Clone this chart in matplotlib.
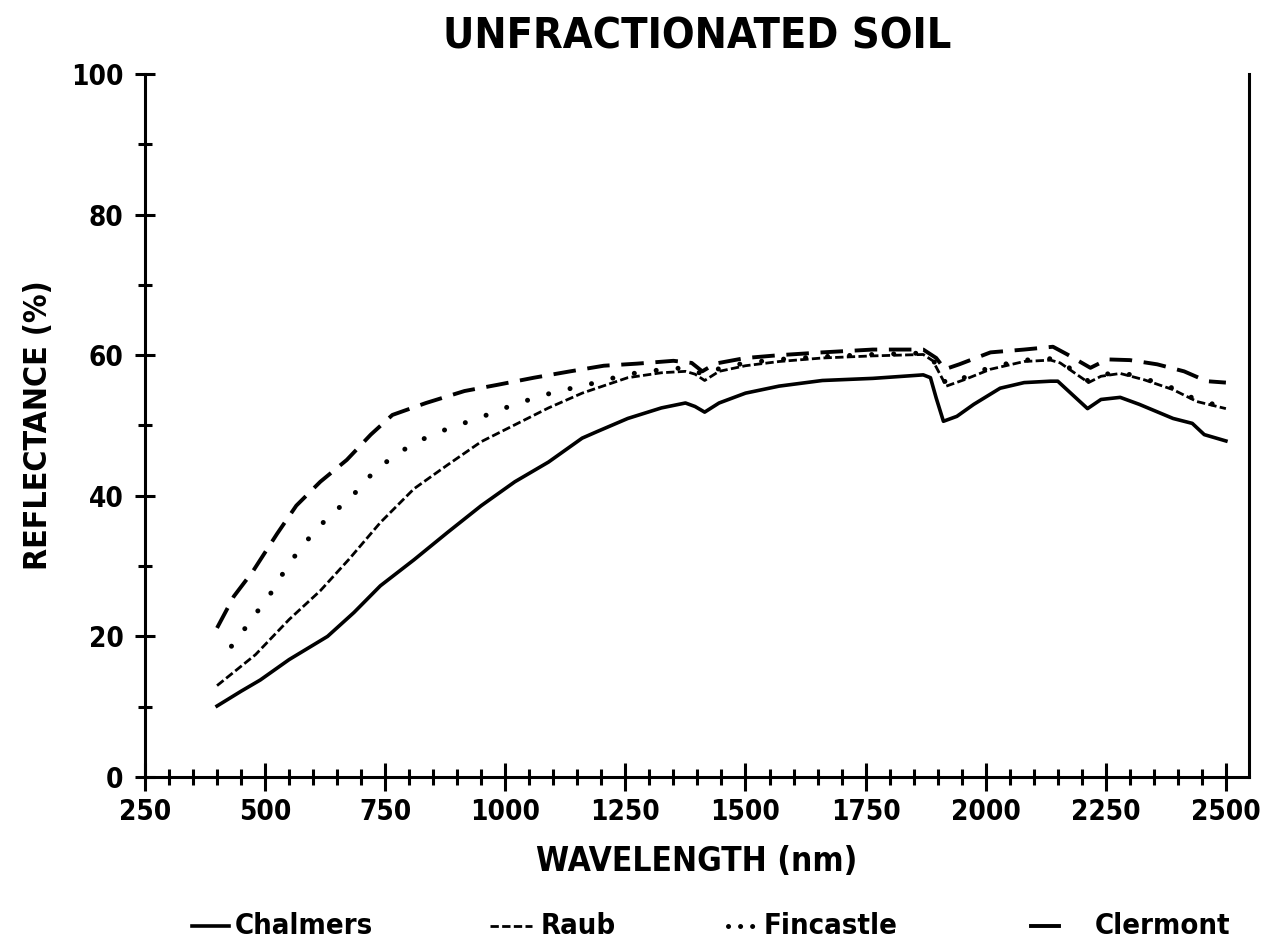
"""
Reflectance spectra of unfractionated soils (Chalmers, Raub, Fincastle, Clermont).
"""
import matplotlib
matplotlib.use("Agg")
import matplotlib.pyplot as plt
from matplotlib.lines import Line2D
from matplotlib.ticker import MultipleLocator

plt.rcParams["font.family"] = ["DejaVu Sans"]
plt.rcParams["font.stretch"] = "condensed"
plt.rcParams["font.weight"] = "bold"

# --- data -----------------------------------------------------------------
chalmers_wl = [400, 450, 490, 550, 630, 685, 740, 810, 880, 950,
               1020, 1090, 1160, 1190, 1255, 1325, 1375, 1395, 1415, 1445,
               1500, 1570, 1660, 1765, 1870, 1885, 1897, 1912, 1940, 1975,
               2030, 2080, 2135, 2150, 2212, 2240, 2280, 2320, 2390, 2430,
               2455, 2500]
chalmers = [10.1, 12.2, 13.8, 16.7, 20.0, 23.4, 27.2, 30.9, 34.8, 38.6,
            42.0, 44.8, 48.2, 49.1, 51.0, 52.5, 53.2, 52.7, 51.9, 53.2,
            54.6, 55.6, 56.4, 56.7, 57.2, 56.8, 53.9, 50.6, 51.3, 53.0,
            55.3, 56.1, 56.3, 56.3, 52.4, 53.7, 54.0, 53.0, 51.0, 50.3,
            48.7, 47.8]

raub_wl = [400, 480, 550, 615, 675, 740, 810, 880, 950, 1020,
           1090, 1160, 1190, 1255, 1325, 1375, 1395, 1415, 1445, 1500,
           1570, 1660, 1765, 1870, 1890, 1918, 1955, 2010, 2080, 2135,
           2155, 2214, 2240, 2280, 2330, 2390, 2440, 2500]
raub = [13.0, 17.4, 22.4, 26.5, 31.0, 36.2, 41.0, 44.4, 47.7, 50.1,
        52.5, 54.6, 55.3, 56.8, 57.5, 57.7, 57.3, 56.4, 57.7, 58.5,
        59.1, 59.6, 59.9, 60.1, 59.2, 55.6, 56.5, 58.0, 59.1, 59.3,
        58.9, 56.1, 57.0, 57.4, 56.5, 55.1, 53.4, 52.4]

fincastle_wl = [430, 460, 490, 520, 545, 575, 605, 640, 680, 710,
                750, 790, 830, 875, 925, 970, 1015, 1065, 1110, 1160,
                1205, 1255, 1300, 1350, 1395, 1415, 1445, 1500, 1570, 1660,
                1765, 1870, 1890, 1918, 1955, 2010, 2080, 2135, 2155, 2214,
                2240, 2280, 2330, 2390, 2440, 2500]
fincastle = [18.6, 21.3, 24.1, 26.9, 29.9, 32.6, 35.1, 37.5, 39.8, 42.3,
             44.7, 46.6, 48.1, 49.4, 50.6, 51.7, 52.9, 54.0, 54.9, 55.6,
             56.4, 57.3, 57.7, 58.2, 57.9, 57.0, 58.1, 58.9, 59.4, 59.8,
             60.1, 60.3, 59.4, 55.9, 56.8, 58.3, 59.3, 59.5, 59.1, 56.3,
             57.2, 57.6, 56.7, 55.3, 53.6, 52.6]

clermont_wl = [400, 435, 475, 525, 565, 615, 670, 720, 765, 835,
               915, 985, 1060, 1135, 1205, 1275, 1350, 1388, 1410, 1437,
               1500, 1570, 1660, 1765, 1870, 1897, 1915, 1945, 2010, 2080,
               2140, 2170, 2218, 2253, 2300, 2357, 2413, 2460, 2500]
clermont = [21.2, 25.7, 29.3, 34.6, 38.6, 42.0, 45.1, 48.7, 51.5, 53.2,
            54.9, 55.8, 56.8, 57.7, 58.5, 58.8, 59.2, 58.9, 57.7, 58.8,
            59.6, 60.0, 60.4, 60.8, 60.8, 59.6, 58.0, 58.7, 60.4, 60.8,
            61.2, 60.1, 58.2, 59.4, 59.3, 58.7, 57.7, 56.3, 56.1]

x_ticks = [250, 500, 750, 1000, 1250, 1500, 1750, 2000, 2250, 2500]
y_ticks = [0, 20, 40, 60, 80, 100]

# line styles: (label, x, y, style kwargs)
series = [
    ("Chalmers", chalmers_wl, chalmers,
     dict(lw=2.6, ls="-")),
    ("Raub", raub_wl, raub,
     dict(lw=2.0, ls=(0, (3.0, 1.2)))),
    ("Fincastle", fincastle_wl, fincastle,
     dict(lw=3.6, ls=(0, (0.01, 4.4)), dash_capstyle="round")),
    ("Clermont", clermont_wl, clermont,
     dict(lw=2.8, ls=(0, (5.8, 3.0)))),
]
# the legend samples are short, so some patterns are drawn tighter there
legend_ls = {"Fincastle": (0, (0.01, 2.4)), "Clermont": "-"}

fig = plt.figure(figsize=(12.64, 9.47), dpi=100)
ax = fig.add_axes([0.1147, 0.1795, 0.8734, 0.7424])

for label, x, y, kw in series:
    ax.plot(x, y, color="black", **kw)

ax.set_xlim(250, 2548)
ax.set_ylim(0, 100)
ax.set_xticks(x_ticks)
ax.set_yticks(y_ticks)
ax.xaxis.set_minor_locator(MultipleLocator(50))
ax.yaxis.set_minor_locator(MultipleLocator(10))

ax.spines["top"].set_visible(False)
for side in ("left", "bottom", "right"):
    ax.spines[side].set_linewidth(2.2)

ax.tick_params(axis="x", which="major", direction="inout", length=20,
               width=2.2, labelsize=20, pad=5)
ax.tick_params(axis="x", which="minor", direction="inout", length=12,
               width=2.2)
ax.tick_params(axis="y", which="major", direction="inout", length=15,
               width=2.2, labelsize=20, pad=8, right=False)
ax.tick_params(axis="y", which="minor", direction="inout", length=10,
               width=2.2, right=False)
for t in ax.get_xticklabels() + ax.get_yticklabels():
    t.set_fontweight("bold")
    t.set_fontstretch("condensed")

ax.set_title("UNFRACTIONATED SOIL", fontsize=31, fontweight="bold", pad=18,
             fontstretch="condensed")
ax.set_xlabel("WAVELENGTH (nm)", fontsize=24, fontweight="bold", labelpad=14,
              fontstretch="condensed")
ax.set_ylabel("REFLECTANCE (%)", fontsize=23, fontweight="bold", labelpad=12,
              fontstretch="condensed")

# legend row under the axis label: handle start/end and text start (fig fraction)
leg_handle = [(0.152, 0.181), (0.388, 0.421), (0.576, 0.598), (0.816, 0.838)]
leg_text_x = [0.186, 0.428, 0.604, 0.866]
leg_y = 0.022
for (label, _, _, kw), (h0, h1), tx in zip(series, leg_handle, leg_text_x):
    style = dict(kw)
    if label in legend_ls:
        style["ls"] = legend_ls[label]
    fig.add_artist(Line2D([h0, h1], [leg_y, leg_y],
                          transform=fig.transFigure, color="black", **style))
    fig.text(tx, leg_y, label, fontsize=21, fontweight="bold",
             va="center", ha="left", fontstretch="condensed")

fig.savefig("out.png", dpi=100)
